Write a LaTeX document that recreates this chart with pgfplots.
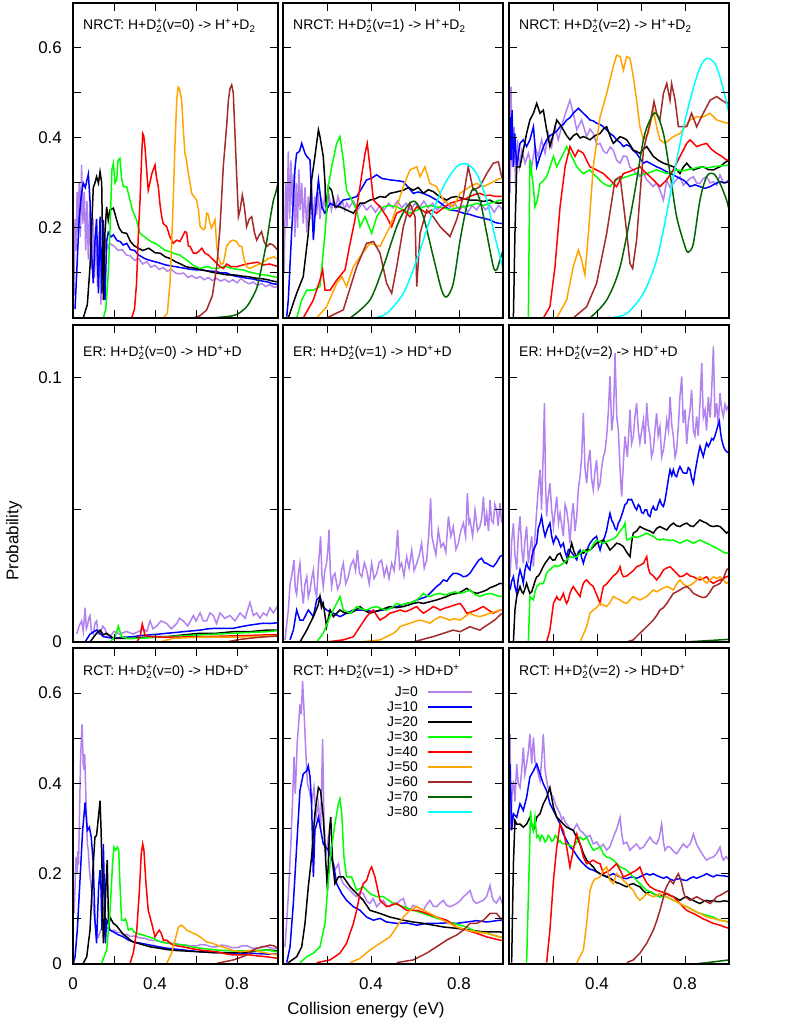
\documentclass[border=0pt]{standalone}
\usepackage{pgfplots}
\pgfplotsset{compat=1.18}
\usepackage{fontspec}
\setmainfont{Liberation Sans}
\definecolor{jpurple}{HTML}{B283F0}
\definecolor{jgreen}{HTML}{00FF00}
\definecolor{jorange}{HTML}{FFA500}
\definecolor{jbrown}{HTML}{A52A2A}
\definecolor{jdkgreen}{HTML}{006400}
\definecolor{jcyan}{HTML}{00FFFF}
\newcommand{\Dtwo}{D\rlap{\textsuperscript{+}}\textsubscript{2}}
\newcommand{\titlefont}{\fontsize{14}{14}\selectfont}
\pgfplotsset{
  panel/.style={scale only axis, anchor=south west, xmin=0, xmax=1, ymin=0,
    axis line style={line width=2.6bp}, axis on top,
    major tick length=8bp, tick style={line width=1bp,black}, tick align=inside,
    xtick pos=both, ytick pos=both,
    xtick={0.2,0.4,0.6,0.8}, xticklabels={,,,,,,}, yticklabels={,,,,,,,,,},
    ticklabel style={font=\fontsize{17}{17}\selectfont, inner sep=0pt},
    xticklabel style={yshift=-13bp}, yticklabel style={xshift=-11bp},
    clip=true, every axis plot/.append style={line width=1.5bp, no markers}},
  c0/.style={color=jpurple}, c1/.style={color=blue}, c2/.style={color=black},
  c3/.style={color=jgreen}, c4/.style={color=red}, c5/.style={color=jorange},
  c6/.style={color=jbrown}, c7/.style={color=jdkgreen}, c8/.style={color=jcyan},
  rowA/.style={ymax=0.7, ytick={0.1,0.2,0.3,0.4,0.5,0.6}},
  rowB/.style={ymax=0.12, ytick={0,0.05,0.1}},
  rowC/.style={ymax=0.7, ytick={0,0.1,0.2,0.3,0.4,0.5,0.6}},
}
\begin{document}
\begin{tikzpicture}
\path[use as bounding box] (0,0) rectangle (789bp,1021bp);
%% ================= ROW 1: NRCT =================
\begin{axis}[panel,rowA,at={(73bp,703bp)},width=205bp,height=315bp,yticklabels={,0.2,,0.4,,0.6}]
\addplot[c0] coordinates {(0.005,0.05)(0.01,0.22)(0.015,0.15)(0.02,0.28)(0.025,0.19)(0.03,0.3)(0.036,0.18)(0.042,0.34)(0.048,0.21)(0.055,0.28)(0.062,0.15)(0.068,0.26)(0.075,0.13)(0.082,0.24)(0.09,0.11)(0.098,0.22)(0.105,0.09)(0.112,0.2)(0.12,0.07)(0.128,0.19)(0.136,0.03)(0.144,0.17)(0.152,0.14)(0.16,0.17)(0.17,0.155)(0.18,0.165)(0.2,0.16)(0.22,0.15)(0.24,0.152)(0.26,0.14)(0.28,0.138)(0.3,0.128)(0.32,0.132)(0.34,0.12)(0.36,0.125)(0.38,0.113)(0.4,0.117)(0.42,0.108)(0.44,0.112)(0.46,0.104)(0.48,0.108)(0.5,0.1)(0.52,0.098)(0.54,0.1)(0.56,0.09)(0.58,0.094)(0.6,0.088)(0.62,0.092)(0.64,0.085)(0.66,0.09)(0.68,0.083)(0.7,0.088)(0.72,0.082)(0.74,0.086)(0.76,0.08)(0.78,0.085)(0.8,0.078)(0.82,0.088)(0.84,0.08)(0.86,0.076)(0.88,0.08)(0.9,0.072)(0.92,0.077)(0.94,0.07)(0.96,0.074)(0.98,0.068)(1,0.07)};
\addplot[c1] coordinates {(0.01,0.02)(0.02,0.12)(0.03,0.22)(0.04,0.27)(0.05,0.3)(0.06,0.29)(0.07,0.31)(0.075,0.32)(0.083,0.26)(0.09,0.15)(0.099,0.077)(0.107,0.17)(0.115,0.22)(0.124,0.055)(0.132,0.225)(0.14,0.055)(0.148,0.218)(0.156,0.04)(0.164,0.17)(0.172,0.19)(0.185,0.18)(0.197,0.185)(0.215,0.172)(0.23,0.17)(0.245,0.162)(0.262,0.166)(0.28,0.152)(0.3,0.15)(0.32,0.14)(0.35,0.132)(0.375,0.128)(0.4,0.125)(0.425,0.122)(0.45,0.118)(0.475,0.116)(0.5,0.114)(0.525,0.112)(0.55,0.11)(0.575,0.108)(0.6,0.107)(0.625,0.107)(0.65,0.105)(0.675,0.104)(0.7,0.103)(0.725,0.1)(0.75,0.1)(0.775,0.095)(0.8,0.092)(0.825,0.091)(0.85,0.088)(0.875,0.087)(0.9,0.084)(0.925,0.082)(0.95,0.08)(0.975,0.076)(1,0.075)};
\addplot[c2] coordinates {(0.05,0)(0.07,0.03)(0.083,0.114)(0.099,0.29)(0.107,0.3)(0.115,0.314)(0.124,0.3)(0.132,0.325)(0.14,0.3)(0.148,0.04)(0.156,0.19)(0.164,0.247)(0.172,0.218)(0.18,0.24)(0.197,0.244)(0.213,0.218)(0.225,0.2)(0.24,0.19)(0.262,0.188)(0.28,0.17)(0.3,0.16)(0.32,0.155)(0.34,0.15)(0.37,0.155)(0.4,0.145)(0.425,0.144)(0.45,0.136)(0.475,0.132)(0.5,0.125)(0.525,0.12)(0.55,0.114)(0.575,0.112)(0.6,0.11)(0.625,0.107)(0.65,0.105)(0.675,0.102)(0.7,0.1)(0.725,0.098)(0.75,0.096)(0.775,0.096)(0.8,0.095)(0.825,0.093)(0.85,0.092)(0.875,0.09)(0.9,0.088)(0.925,0.087)(0.95,0.085)(0.975,0.082)(1,0.08)};
\addplot[c3] coordinates {(0.148,0)(0.16,0.02)(0.172,0.1)(0.18,0.188)(0.19,0.33)(0.197,0.344)(0.205,0.3)(0.213,0.307)(0.22,0.35)(0.229,0.355)(0.237,0.31)(0.246,0.292)(0.262,0.292)(0.278,0.262)(0.29,0.24)(0.31,0.218)(0.327,0.188)(0.35,0.18)(0.38,0.17)(0.4,0.166)(0.424,0.159)(0.45,0.15)(0.47,0.148)(0.489,0.144)(0.52,0.14)(0.554,0.129)(0.587,0.117)(0.62,0.11)(0.64,0.113)(0.66,0.114)(0.68,0.11)(0.7,0.11)(0.725,0.113)(0.75,0.114)(0.775,0.11)(0.8,0.108)(0.83,0.107)(0.86,0.102)(0.88,0.1)(0.92,0.096)(0.95,0.095)(0.975,0.092)(1,0.09)};
\addplot[c4] coordinates {(0.286,0)(0.3,0.02)(0.31,0.077)(0.32,0.2)(0.327,0.262)(0.335,0.36)(0.34,0.41)(0.345,0.405)(0.351,0.381)(0.359,0.33)(0.367,0.284)(0.375,0.3)(0.384,0.32)(0.392,0.33)(0.4,0.34)(0.408,0.31)(0.416,0.292)(0.425,0.25)(0.433,0.225)(0.44,0.21)(0.457,0.203)(0.473,0.18)(0.489,0.166)(0.506,0.173)(0.522,0.17)(0.546,0.192)(0.554,0.19)(0.563,0.16)(0.571,0.159)(0.587,0.144)(0.603,0.144)(0.62,0.151)(0.628,0.155)(0.644,0.144)(0.66,0.14)(0.685,0.129)(0.717,0.114)(0.733,0.11)(0.75,0.12)(0.77,0.114)(0.8,0.114)(0.83,0.118)(0.86,0.121)(0.9,0.124)(0.93,0.118)(0.96,0.12)(1,0.114)};
\addplot[c5] coordinates {(0.44,0)(0.46,0.01)(0.473,0.077)(0.48,0.15)(0.489,0.262)(0.497,0.38)(0.506,0.484)(0.513,0.513)(0.519,0.51)(0.53,0.484)(0.538,0.42)(0.546,0.366)(0.554,0.35)(0.563,0.32)(0.571,0.3)(0.579,0.277)(0.59,0.27)(0.603,0.262)(0.612,0.24)(0.62,0.203)(0.628,0.2)(0.636,0.196)(0.644,0.2)(0.652,0.233)(0.66,0.23)(0.668,0.21)(0.676,0.2)(0.685,0.21)(0.693,0.218)(0.701,0.16)(0.709,0.136)(0.72,0.12)(0.733,0.121)(0.75,0.16)(0.766,0.17)(0.782,0.173)(0.798,0.17)(0.81,0.16)(0.823,0.159)(0.835,0.13)(0.847,0.114)(0.863,0.11)(0.88,0.114)(0.9,0.118)(0.92,0.12)(0.945,0.13)(0.96,0.133)(0.98,0.136)(1,0.13)};
\addplot[c6] coordinates {(0.587,0)(0.62,0.005)(0.652,0.018)(0.68,0.05)(0.701,0.114)(0.717,0.2)(0.733,0.336)(0.75,0.43)(0.758,0.484)(0.766,0.51)(0.774,0.518)(0.782,0.5)(0.79,0.41)(0.8,0.3)(0.807,0.225)(0.815,0.24)(0.826,0.273)(0.835,0.25)(0.847,0.203)(0.86,0.22)(0.872,0.225)(0.885,0.19)(0.896,0.173)(0.91,0.185)(0.92,0.192)(0.932,0.17)(0.945,0.159)(0.96,0.165)(0.977,0.162)(1,0.15)};
\addplot[c7,smooth] coordinates {(0.668,0)(0.75,0.003)(0.8,0.008)(0.847,0.025)(0.88,0.05)(0.9,0.072)(0.928,0.13)(0.945,0.17)(0.961,0.218)(0.977,0.26)(0.99,0.28)(1,0.3)};
\end{axis}

\begin{axis}[panel,rowA,at={(283bp,703bp)},width=220bp,height=315bp]
\addplot[c0] coordinates {(0.005,0.1)(0.012,0.3)(0.018,0.2)(0.024,0.37)(0.03,0.22)(0.036,0.35)(0.042,0.25)(0.048,0.32)(0.054,0.18)(0.06,0.3)(0.066,0.2)(0.072,0.33)(0.078,0.24)(0.085,0.3)(0.092,0.21)(0.1,0.29)(0.108,0.19)(0.115,0.27)(0.123,0.22)(0.13,0.3)(0.138,0.2)(0.145,0.27)(0.153,0.23)(0.16,0.28)(0.168,0.22)(0.176,0.26)(0.184,0.24)(0.19,0.28)(0.2,0.25)(0.21,0.27)(0.22,0.24)(0.23,0.265)(0.24,0.245)(0.25,0.27)(0.26,0.25)(0.27,0.26)(0.28,0.24)(0.29,0.255)(0.3,0.245)(0.32,0.26)(0.34,0.24)(0.36,0.255)(0.38,0.24)(0.4,0.25)(0.42,0.235)(0.44,0.25)(0.46,0.24)(0.48,0.255)(0.5,0.245)(0.52,0.26)(0.54,0.245)(0.56,0.255)(0.58,0.24)(0.6,0.255)(0.62,0.245)(0.64,0.26)(0.66,0.245)(0.68,0.255)(0.7,0.24)(0.72,0.25)(0.74,0.26)(0.76,0.245)(0.78,0.255)(0.8,0.24)(0.82,0.25)(0.84,0.235)(0.86,0.25)(0.88,0.24)(0.9,0.255)(0.92,0.24)(0.94,0.25)(0.96,0.235)(0.98,0.25)(1,0.24)};
\addplot[c1] coordinates {(0.017,0.003)(0.024,0.04)(0.039,0.188)(0.055,0.336)(0.062,0.366)(0.075,0.37)(0.085,0.388)(0.1,0.366)(0.108,0.359)(0.123,0.351)(0.13,0.262)(0.138,0.173)(0.145,0.225)(0.161,0.307)(0.176,0.247)(0.191,0.233)(0.214,0.255)(0.244,0.247)(0.274,0.262)(0.305,0.265)(0.335,0.27)(0.36,0.29)(0.38,0.307)(0.4,0.31)(0.426,0.318)(0.45,0.31)(0.486,0.307)(0.52,0.305)(0.547,0.303)(0.57,0.29)(0.592,0.277)(0.615,0.28)(0.638,0.277)(0.67,0.27)(0.698,0.262)(0.73,0.25)(0.759,0.24)(0.79,0.238)(0.82,0.233)(0.85,0.23)(0.88,0.225)(0.91,0.222)(0.941,0.218)(0.965,0.212)(0.986,0.21)(1,0.21)};
\addplot[c2] coordinates {(0.024,0)(0.062,0.055)(0.092,0.092)(0.115,0.188)(0.13,0.307)(0.145,0.359)(0.161,0.418)(0.168,0.403)(0.183,0.359)(0.191,0.299)(0.198,0.233)(0.206,0.292)(0.221,0.284)(0.236,0.247)(0.259,0.247)(0.289,0.24)(0.32,0.233)(0.35,0.255)(0.37,0.255)(0.395,0.262)(0.42,0.265)(0.441,0.27)(0.465,0.268)(0.486,0.277)(0.515,0.28)(0.547,0.284)(0.57,0.29)(0.592,0.284)(0.615,0.29)(0.638,0.277)(0.66,0.285)(0.683,0.281)(0.71,0.27)(0.744,0.262)(0.765,0.268)(0.789,0.27)(0.82,0.265)(0.85,0.262)(0.88,0.262)(0.911,0.259)(0.94,0.262)(0.965,0.256)(0.986,0.255)(1,0.257)};
\addplot[c3] coordinates {(0.062,0)(0.085,0.04)(0.108,0.062)(0.138,0.062)(0.168,0.07)(0.191,0.188)(0.206,0.292)(0.221,0.336)(0.244,0.388)(0.259,0.403)(0.274,0.351)(0.289,0.284)(0.312,0.262)(0.335,0.24)(0.35,0.203)(0.373,0.225)(0.403,0.188)(0.426,0.225)(0.456,0.247)(0.485,0.25)(0.517,0.247)(0.545,0.24)(0.577,0.233)(0.61,0.24)(0.638,0.247)(0.67,0.25)(0.698,0.247)(0.73,0.245)(0.759,0.24)(0.79,0.245)(0.82,0.247)(0.85,0.25)(0.88,0.255)(0.91,0.25)(0.941,0.255)(0.965,0.258)(0.986,0.262)(1,0.26)};
\addplot[c4] coordinates {(0.092,0)(0.138,0.04)(0.168,0.084)(0.18,0.107)(0.191,0.062)(0.214,0.062)(0.244,0.084)(0.282,0.107)(0.305,0.166)(0.327,0.218)(0.35,0.292)(0.373,0.366)(0.383,0.388)(0.395,0.336)(0.411,0.262)(0.441,0.247)(0.471,0.225)(0.494,0.203)(0.517,0.233)(0.547,0.24)(0.577,0.225)(0.608,0.247)(0.63,0.24)(0.653,0.233)(0.675,0.24)(0.698,0.233)(0.73,0.245)(0.759,0.255)(0.78,0.258)(0.805,0.262)(0.83,0.265)(0.85,0.27)(0.875,0.275)(0.895,0.277)(0.92,0.272)(0.941,0.273)(0.965,0.27)(0.986,0.27)(1,0.27)};
\addplot[c5] coordinates {(0.153,0)(0.198,0.025)(0.244,0.077)(0.267,0.092)(0.289,0.07)(0.32,0.114)(0.35,0.136)(0.395,0.166)(0.441,0.159)(0.486,0.203)(0.517,0.247)(0.547,0.292)(0.577,0.329)(0.608,0.336)(0.623,0.314)(0.645,0.336)(0.668,0.299)(0.698,0.292)(0.729,0.262)(0.774,0.247)(0.805,0.277)(0.85,0.292)(0.88,0.299)(0.911,0.292)(0.941,0.299)(0.965,0.305)(0.986,0.31)(1,0.31)};
\addplot[c6] coordinates {(0.198,0)(0.274,0.018)(0.335,0.114)(0.38,0.166)(0.411,0.17)(0.441,0.144)(0.471,0.077)(0.494,0.055)(0.517,0.114)(0.547,0.203)(0.577,0.255)(0.6,0.225)(0.608,0.07)(0.623,0.188)(0.653,0.24)(0.683,0.225)(0.714,0.203)(0.759,0.181)(0.789,0.218)(0.82,0.27)(0.842,0.336)(0.865,0.284)(0.895,0.292)(0.926,0.321)(0.956,0.344)(0.979,0.347)(0.994,0.314)(1,0.31)};
\addplot[c7,smooth] coordinates {(0.305,0)(0.395,0.04)(0.456,0.114)(0.517,0.203)(0.562,0.247)(0.6,0.259)(0.638,0.225)(0.683,0.136)(0.721,0.062)(0.744,0.047)(0.774,0.077)(0.805,0.173)(0.835,0.247)(0.865,0.288)(0.895,0.262)(0.926,0.188)(0.956,0.114)(0.971,0.107)(0.986,0.129)(1,0.15)};
\addplot[c8,smooth] coordinates {(0.411,0)(0.471,0.01)(0.547,0.055)(0.608,0.129)(0.668,0.218)(0.729,0.292)(0.789,0.336)(0.835,0.342)(0.88,0.321)(0.926,0.262)(0.956,0.196)(0.986,0.136)(1,0.11)};
\end{axis}

\begin{axis}[panel,rowA,at={(509bp,703bp)},width=220bp,height=315bp]
\addplot[c0] coordinates {(0.005,0.277)(0.009,0.514)(0.015,0.336)(0.023,0.425)(0.03,0.292)(0.038,0.396)(0.047,0.336)(0.058,0.373)(0.073,0.344)(0.088,0.366)(0.103,0.336)(0.118,0.381)(0.133,0.359)(0.148,0.396)(0.164,0.366)(0.179,0.41)(0.194,0.381)(0.209,0.425)(0.224,0.396)(0.247,0.44)(0.262,0.462)(0.277,0.484)(0.292,0.455)(0.308,0.418)(0.33,0.44)(0.353,0.403)(0.368,0.42)(0.383,0.41)(0.4,0.385)(0.414,0.388)(0.43,0.37)(0.444,0.366)(0.46,0.38)(0.474,0.373)(0.49,0.35)(0.505,0.344)(0.52,0.36)(0.535,0.359)(0.55,0.335)(0.565,0.329)(0.58,0.32)(0.595,0.314)(0.61,0.325)(0.626,0.307)(0.64,0.3)(0.656,0.292)(0.67,0.3)(0.686,0.284)(0.702,0.262)(0.717,0.307)(0.732,0.29)(0.747,0.299)(0.762,0.308)(0.777,0.314)(0.792,0.295)(0.808,0.303)(0.823,0.31)(0.838,0.314)(0.853,0.3)(0.868,0.299)(0.883,0.31)(0.898,0.314)(0.914,0.3)(0.929,0.303)(0.944,0.295)(0.959,0.318)(0.975,0.3)(1,0.307)};
\addplot[c1] coordinates {(0.005,0.447)(0.009,0.351)(0.014,0.462)(0.02,0.336)(0.026,0.41)(0.035,0.336)(0.05,0.388)(0.065,0.396)(0.08,0.381)(0.095,0.396)(0.111,0.425)(0.126,0.336)(0.141,0.359)(0.156,0.38)(0.171,0.396)(0.186,0.405)(0.202,0.41)(0.217,0.415)(0.232,0.425)(0.247,0.43)(0.262,0.44)(0.277,0.445)(0.292,0.455)(0.315,0.466)(0.338,0.455)(0.353,0.448)(0.368,0.44)(0.383,0.438)(0.398,0.433)(0.414,0.43)(0.429,0.425)(0.444,0.418)(0.459,0.41)(0.474,0.405)(0.489,0.396)(0.505,0.39)(0.52,0.381)(0.535,0.385)(0.55,0.381)(0.565,0.372)(0.58,0.366)(0.595,0.355)(0.611,0.344)(0.626,0.348)(0.641,0.344)(0.656,0.34)(0.671,0.336)(0.686,0.333)(0.702,0.329)(0.717,0.325)(0.732,0.321)(0.747,0.318)(0.762,0.314)(0.777,0.31)(0.792,0.307)(0.808,0.3)(0.823,0.292)(0.845,0.296)(0.868,0.292)(0.89,0.288)(0.914,0.292)(0.936,0.298)(0.959,0.303)(0.98,0.3)(1,0.303)};
\addplot[c2] coordinates {(0.02,0)(0.027,0.188)(0.035,0.336)(0.05,0.336)(0.065,0.373)(0.08,0.41)(0.095,0.44)(0.111,0.455)(0.126,0.477)(0.141,0.455)(0.156,0.462)(0.171,0.418)(0.186,0.381)(0.202,0.41)(0.217,0.44)(0.232,0.43)(0.247,0.418)(0.262,0.405)(0.277,0.396)(0.292,0.405)(0.308,0.41)(0.323,0.4)(0.338,0.403)(0.353,0.4)(0.368,0.396)(0.39,0.405)(0.414,0.41)(0.429,0.42)(0.444,0.425)(0.459,0.405)(0.474,0.388)(0.489,0.395)(0.505,0.403)(0.52,0.4)(0.535,0.396)(0.55,0.385)(0.565,0.373)(0.58,0.37)(0.595,0.366)(0.611,0.375)(0.626,0.381)(0.641,0.37)(0.656,0.359)(0.68,0.35)(0.702,0.344)(0.725,0.34)(0.747,0.336)(0.762,0.33)(0.777,0.321)(0.792,0.335)(0.808,0.344)(0.823,0.335)(0.838,0.329)(0.86,0.333)(0.883,0.336)(0.905,0.33)(0.929,0.329)(0.945,0.333)(0.959,0.336)(0.98,0.345)(1,0.351)};
\addplot[c3] coordinates {(0.088,0)(0.095,0.351)(0.111,0.292)(0.118,0.247)(0.129,0.262)(0.141,0.299)(0.156,0.305)(0.171,0.314)(0.186,0.335)(0.202,0.359)(0.217,0.336)(0.232,0.351)(0.247,0.365)(0.262,0.381)(0.285,0.359)(0.308,0.336)(0.323,0.328)(0.338,0.321)(0.353,0.325)(0.368,0.329)(0.383,0.32)(0.398,0.314)(0.414,0.305)(0.429,0.299)(0.444,0.295)(0.459,0.292)(0.474,0.3)(0.489,0.307)(0.51,0.31)(0.535,0.314)(0.558,0.318)(0.58,0.321)(0.603,0.318)(0.626,0.321)(0.648,0.325)(0.671,0.329)(0.695,0.325)(0.717,0.321)(0.74,0.325)(0.762,0.329)(0.785,0.327)(0.808,0.329)(0.838,0.332)(0.868,0.336)(0.9,0.334)(0.929,0.336)(0.96,0.338)(1,0.34)};
\addplot[c4] coordinates {(0.156,0)(0.186,0.025)(0.209,0.114)(0.232,0.247)(0.255,0.336)(0.277,0.381)(0.3,0.359)(0.315,0.373)(0.338,0.366)(0.353,0.35)(0.368,0.336)(0.398,0.329)(0.429,0.321)(0.459,0.307)(0.489,0.292)(0.52,0.321)(0.545,0.325)(0.565,0.329)(0.595,0.336)(0.626,0.321)(0.656,0.307)(0.686,0.292)(0.717,0.307)(0.747,0.329)(0.777,0.359)(0.808,0.388)(0.823,0.396)(0.853,0.381)(0.875,0.385)(0.898,0.388)(0.92,0.375)(0.944,0.366)(0.965,0.36)(0.989,0.351)(1,0.35)};
\addplot[c5] coordinates {(0.217,0)(0.262,0.04)(0.292,0.114)(0.315,0.151)(0.33,0.129)(0.345,0.096)(0.361,0.188)(0.383,0.336)(0.414,0.447)(0.444,0.499)(0.474,0.559)(0.489,0.584)(0.505,0.581)(0.52,0.551)(0.535,0.581)(0.55,0.577)(0.565,0.536)(0.58,0.484)(0.595,0.425)(0.611,0.396)(0.633,0.41)(0.656,0.462)(0.671,0.425)(0.686,0.396)(0.709,0.388)(0.747,0.403)(0.777,0.41)(0.8,0.425)(0.823,0.44)(0.853,0.447)(0.883,0.447)(0.914,0.455)(0.944,0.44)(0.97,0.436)(0.989,0.433)(1,0.435)};
\addplot[c6] coordinates {(0.292,0)(0.353,0.025)(0.398,0.077)(0.444,0.188)(0.482,0.307)(0.505,0.314)(0.527,0.225)(0.55,0.121)(0.562,0.11)(0.58,0.173)(0.611,0.373)(0.641,0.433)(0.659,0.481)(0.671,0.455)(0.686,0.44)(0.702,0.499)(0.717,0.521)(0.732,0.484)(0.739,0.521)(0.755,0.484)(0.77,0.425)(0.808,0.425)(0.83,0.455)(0.853,0.425)(0.883,0.455)(0.914,0.484)(0.944,0.492)(0.967,0.484)(0.989,0.477)(1,0.48)};
\addplot[c7,smooth] coordinates {(0.368,0)(0.444,0.04)(0.505,0.114)(0.565,0.262)(0.611,0.396)(0.641,0.44)(0.668,0.455)(0.702,0.41)(0.732,0.321)(0.762,0.225)(0.8,0.159)(0.815,0.146)(0.838,0.166)(0.868,0.262)(0.898,0.314)(0.929,0.321)(0.959,0.299)(0.989,0.262)(1,0.24)};
\addplot[c8,smooth] coordinates {(0.459,0)(0.535,0.01)(0.611,0.055)(0.671,0.129)(0.717,0.233)(0.762,0.351)(0.808,0.455)(0.853,0.536)(0.883,0.57)(0.906,0.577)(0.936,0.566)(0.959,0.536)(0.982,0.492)(1,0.455)};
\end{axis}

%% ================= ROW 2: ER =================
\begin{axis}[panel,rowB,at={(73bp,379bp)},width=205bp,height=317bp,yticklabels={0,,0.1}]
\addplot[c0] coordinates {(0.018,0.003)(0.03,0.006)(0.042,0.008)(0.05,0.004)(0.059,0.013)(0.065,0.005)(0.07,0.006)(0.077,0.009)(0.083,0.01)(0.09,0.004)(0.099,0.003)(0.107,0.007)(0.115,0.008)(0.123,0.003)(0.132,0.003)(0.145,0.006)(0.156,0.005)(0.168,0.002)(0.18,0.002)(0.2,0.004)(0.229,0.003)(0.26,0.004)(0.294,0.003)(0.32,0.004)(0.343,0.005)(0.36,0.004)(0.376,0.008)(0.39,0.005)(0.408,0.006)(0.43,0.008)(0.457,0.007)(0.48,0.005)(0.506,0.007)(0.52,0.009)(0.538,0.008)(0.56,0.006)(0.587,0.01)(0.6,0.008)(0.62,0.011)(0.635,0.008)(0.652,0.008)(0.668,0.011)(0.685,0.01)(0.7,0.007)(0.717,0.011)(0.74,0.009)(0.766,0.01)(0.79,0.008)(0.815,0.011)(0.84,0.009)(0.863,0.015)(0.88,0.01)(0.896,0.011)(0.912,0.009)(0.928,0.011)(0.945,0.01)(0.961,0.013)(0.977,0.011)(0.993,0.013)(1,0.012)};
\addplot[c1] coordinates {(0.059,0)(0.083,0.003)(0.115,0.0045)(0.148,0.002)(0.197,0.0014)(0.25,0.0018)(0.294,0.002)(0.335,0.0025)(0.376,0.0027)(0.42,0.003)(0.457,0.0033)(0.5,0.0036)(0.538,0.0039)(0.58,0.0042)(0.62,0.0045)(0.66,0.005)(0.701,0.0052)(0.74,0.0052)(0.782,0.0052)(0.82,0.0058)(0.863,0.0064)(0.9,0.0068)(0.928,0.0071)(0.96,0.007)(1,0.0073)};
\addplot[c2] coordinates {(0.083,0)(0.115,0.0033)(0.132,0.0045)(0.148,0.0027)(0.164,0.0033)(0.197,0.0014)(0.294,0.0014)(0.376,0.002)(0.457,0.002)(0.538,0.0027)(0.62,0.0033)(0.701,0.0033)(0.782,0.0039)(0.863,0.0039)(0.945,0.0045)(1,0.0045)};
\addplot[c3] coordinates {(0.18,0)(0.205,0.002)(0.221,0.006)(0.237,0.002)(0.262,0.0014)(0.327,0.0014)(0.457,0.002)(0.62,0.0027)(0.782,0.0033)(0.945,0.0039)(1,0.0043)};
\addplot[c4] coordinates {(0.311,0)(0.327,0.002)(0.338,0.0068)(0.351,0.0027)(0.376,0.002)(0.457,0.0018)(0.62,0.002)(0.782,0.0023)(0.945,0.0027)(1,0.0027)};
\addplot[c5] coordinates {(0.424,0)(0.489,0.0014)(0.62,0.0018)(0.782,0.0018)(0.945,0.0023)(1,0.0023)};
\addplot[c6] coordinates {(0.75,0)(0.815,0.001)(0.912,0.0018)(1,0.0023)};
\end{axis}

\begin{axis}[panel,rowB,at={(283bp,379bp)},width=220bp,height=317bp]
\addplot[c0] coordinates {(0.009,0.0008)(0.024,0.012)(0.032,0.022)(0.039,0.0247)(0.05,0.031)(0.056,0.02)(0.062,0.018)(0.07,0.026)(0.077,0.0298)(0.085,0.02)(0.092,0.0146)(0.1,0.022)(0.108,0.0247)(0.115,0.017)(0.123,0.0197)(0.13,0.024)(0.138,0.0273)(0.145,0.02)(0.153,0.0172)(0.162,0.03)(0.171,0.04)(0.177,0.025)(0.183,0.021)(0.19,0.027)(0.198,0.0298)(0.204,0.035)(0.209,0.0424)(0.215,0.027)(0.221,0.021)(0.228,0.025)(0.236,0.026)(0.248,0.02)(0.259,0.0222)(0.266,0.027)(0.274,0.0298)(0.285,0.022)(0.297,0.0247)(0.308,0.029)(0.32,0.031)(0.33,0.027)(0.338,0.0348)(0.348,0.026)(0.358,0.0247)(0.37,0.03)(0.38,0.0273)(0.392,0.022)(0.403,0.0298)(0.414,0.024)(0.426,0.026)(0.437,0.03)(0.448,0.031)(0.46,0.025)(0.471,0.0285)(0.482,0.024)(0.494,0.0298)(0.505,0.027)(0.515,0.035)(0.521,0.0424)(0.53,0.028)(0.539,0.0298)(0.55,0.025)(0.562,0.0323)(0.573,0.028)(0.585,0.0348)(0.596,0.027)(0.608,0.0298)(0.62,0.033)(0.63,0.0374)(0.642,0.028)(0.653,0.031)(0.662,0.04)(0.671,0.0544)(0.677,0.04)(0.683,0.0374)(0.695,0.033)(0.706,0.0424)(0.718,0.036)(0.729,0.0374)(0.74,0.034)(0.752,0.0475)(0.763,0.04)(0.774,0.0437)(0.786,0.035)(0.797,0.0374)(0.808,0.042)(0.82,0.045)(0.83,0.04)(0.838,0.0563)(0.845,0.045)(0.85,0.0462)(0.862,0.04)(0.873,0.05)(0.884,0.042)(0.895,0.0437)(0.903,0.047)(0.911,0.055)(0.918,0.044)(0.926,0.0487)(0.934,0.042)(0.941,0.0538)(0.948,0.046)(0.956,0.045)(0.963,0.052)(0.971,0.05)(0.978,0.044)(0.986,0.0525)(0.993,0.046)(1,0.0475)};
\addplot[c1] coordinates {(0.032,0.0008)(0.047,0.0045)(0.062,0.0121)(0.077,0.0083)(0.092,0.0083)(0.115,0.0121)(0.138,0.0096)(0.153,0.0159)(0.168,0.0172)(0.183,0.0134)(0.198,0.0121)(0.229,0.0109)(0.259,0.0096)(0.289,0.0109)(0.32,0.0121)(0.365,0.0121)(0.411,0.0115)(0.456,0.0121)(0.49,0.0128)(0.517,0.0134)(0.54,0.014)(0.562,0.0146)(0.585,0.015)(0.608,0.0159)(0.63,0.0165)(0.653,0.0172)(0.675,0.019)(0.698,0.021)(0.714,0.022)(0.729,0.0235)(0.745,0.023)(0.759,0.0247)(0.775,0.026)(0.789,0.026)(0.805,0.0255)(0.82,0.0247)(0.835,0.025)(0.85,0.026)(0.865,0.028)(0.88,0.0298)(0.89,0.031)(0.903,0.0317)(0.915,0.03)(0.926,0.0298)(0.94,0.029)(0.956,0.0285)(0.97,0.03)(0.986,0.0323)(1,0.033)};
\addplot[c2] coordinates {(0.077,0)(0.108,0.0045)(0.138,0.0096)(0.16,0.014)(0.168,0.0172)(0.175,0.013)(0.183,0.0146)(0.198,0.0058)(0.214,0.0121)(0.229,0.0096)(0.259,0.0121)(0.28,0.011)(0.305,0.0109)(0.33,0.012)(0.35,0.0134)(0.37,0.012)(0.395,0.0109)(0.42,0.0115)(0.441,0.0121)(0.465,0.0128)(0.486,0.0134)(0.515,0.013)(0.547,0.0134)(0.57,0.014)(0.592,0.0146)(0.615,0.015)(0.638,0.0146)(0.665,0.0152)(0.698,0.0159)(0.72,0.0165)(0.744,0.0172)(0.765,0.018)(0.789,0.0184)(0.81,0.019)(0.835,0.0203)(0.86,0.019)(0.88,0.0184)(0.905,0.019)(0.926,0.0197)(0.94,0.0205)(0.956,0.021)(0.97,0.0215)(0.986,0.0222)(1,0.022)};
\addplot[c3] coordinates {(0.153,0)(0.183,0.0033)(0.214,0.0096)(0.244,0.0146)(0.259,0.0172)(0.274,0.0121)(0.29,0.0115)(0.305,0.0109)(0.32,0.012)(0.335,0.0134)(0.358,0.0125)(0.38,0.0121)(0.403,0.013)(0.426,0.0134)(0.45,0.0125)(0.471,0.0121)(0.495,0.013)(0.517,0.0146)(0.54,0.014)(0.562,0.0146)(0.585,0.015)(0.608,0.0159)(0.623,0.017)(0.638,0.0184)(0.653,0.0175)(0.668,0.0172)(0.69,0.018)(0.714,0.0184)(0.735,0.0178)(0.759,0.0184)(0.78,0.019)(0.805,0.0184)(0.83,0.019)(0.85,0.0197)(0.872,0.018)(0.895,0.0172)(0.918,0.018)(0.941,0.0184)(0.965,0.0178)(0.986,0.0172)(1,0.0175)};
\addplot[c4] coordinates {(0.198,0)(0.274,0.0008)(0.32,0.002)(0.35,0.0058)(0.38,0.0096)(0.395,0.011)(0.411,0.0121)(0.426,0.01)(0.441,0.0083)(0.465,0.0095)(0.486,0.0109)(0.51,0.0115)(0.532,0.0121)(0.555,0.0115)(0.577,0.0121)(0.592,0.0128)(0.608,0.0134)(0.623,0.012)(0.638,0.0109)(0.66,0.012)(0.683,0.0134)(0.7,0.0128)(0.714,0.0121)(0.735,0.0128)(0.759,0.0134)(0.78,0.014)(0.805,0.0146)(0.82,0.013)(0.835,0.0109)(0.86,0.0115)(0.88,0.0121)(0.895,0.0128)(0.911,0.0134)(0.935,0.012)(0.956,0.0109)(0.972,0.0115)(0.986,0.0121)(1,0.012)};
\addplot[c5] coordinates {(0.35,0)(0.441,0.0008)(0.47,0.002)(0.502,0.0033)(0.52,0.0045)(0.532,0.0058)(0.555,0.0065)(0.577,0.0071)(0.6,0.0078)(0.623,0.0083)(0.645,0.0078)(0.668,0.0071)(0.69,0.0085)(0.714,0.0096)(0.735,0.009)(0.759,0.0083)(0.78,0.0088)(0.805,0.0083)(0.83,0.0098)(0.85,0.0109)(0.872,0.01)(0.895,0.0096)(0.918,0.0102)(0.941,0.0109)(0.965,0.0115)(0.986,0.0121)(1,0.012)};
\addplot[c6] coordinates {(0.592,0)(0.653,0.0014)(0.69,0.0022)(0.729,0.0033)(0.774,0.0045)(0.805,0.0039)(0.85,0.0058)(0.875,0.005)(0.895,0.0045)(0.92,0.006)(0.941,0.0071)(0.965,0.0085)(0.986,0.0102)(1,0.011)};
\end{axis}

\begin{axis}[panel,rowB,at={(509bp,379bp)},width=220bp,height=317bp]
\addplot[c0] coordinates {(0.005,0.0247)(0.012,0.038)(0.02,0.045)(0.027,0.033)(0.035,0.0273)(0.042,0.04)(0.05,0.0475)(0.058,0.035)(0.065,0.0298)(0.072,0.038)(0.08,0.0437)(0.088,0.03)(0.095,0.0348)(0.103,0.04)(0.111,0.0285)(0.118,0.04)(0.126,0.05)(0.133,0.058)(0.141,0.0652)(0.148,0.05)(0.155,0.07)(0.161,0.0904)(0.166,0.06)(0.171,0.0475)(0.178,0.055)(0.186,0.0601)(0.194,0.05)(0.202,0.0437)(0.21,0.05)(0.217,0.055)(0.225,0.045)(0.232,0.0487)(0.24,0.044)(0.247,0.04)(0.255,0.052)(0.262,0.05)(0.27,0.045)(0.277,0.0374)(0.285,0.048)(0.292,0.0525)(0.3,0.042)(0.308,0.0475)(0.315,0.058)(0.323,0.0626)(0.33,0.07)(0.338,0.0866)(0.345,0.066)(0.353,0.0601)(0.36,0.068)(0.368,0.0727)(0.375,0.062)(0.383,0.0576)(0.39,0.064)(0.398,0.0689)(0.406,0.058)(0.414,0.0601)(0.421,0.066)(0.429,0.0702)(0.436,0.072)(0.444,0.0778)(0.452,0.088)(0.459,0.1005)(0.467,0.08)(0.474,0.0854)(0.478,0.095)(0.482,0.1093)(0.49,0.085)(0.497,0.0803)(0.505,0.065)(0.512,0.055)(0.52,0.068)(0.527,0.0778)(0.538,0.07)(0.55,0.0879)(0.557,0.075)(0.565,0.0778)(0.572,0.085)(0.58,0.0904)(0.588,0.08)(0.595,0.0753)(0.603,0.08)(0.611,0.0841)(0.618,0.075)(0.626,0.0904)(0.633,0.082)(0.641,0.0778)(0.648,0.07)(0.656,0.0727)(0.663,0.08)(0.671,0.0866)(0.678,0.078)(0.686,0.0816)(0.694,0.07)(0.702,0.0727)(0.71,0.078)(0.717,0.0841)(0.725,0.08)(0.732,0.0929)(0.74,0.082)(0.747,0.0778)(0.755,0.07)(0.762,0.0727)(0.77,0.082)(0.777,0.0929)(0.785,0.1005)(0.792,0.083)(0.8,0.0879)(0.808,0.075)(0.815,0.0829)(0.823,0.088)(0.83,0.0955)(0.838,0.08)(0.845,0.078)(0.853,0.0854)(0.86,0.078)(0.868,0.0904)(0.876,0.1056)(0.883,0.085)(0.891,0.0879)(0.898,0.08)(0.906,0.0929)(0.914,0.085)(0.921,0.095)(0.929,0.1119)(0.936,0.085)(0.944,0.0904)(0.951,0.082)(0.959,0.0942)(0.967,0.088)(0.974,0.0854)(0.982,0.09)(0.989,0.0879)(1,0.09)};
\addplot[c1] coordinates {(0.005,0.0197)(0.012,0.023)(0.02,0.0247)(0.027,0.021)(0.035,0.0184)(0.042,0.024)(0.05,0.0273)(0.058,0.025)(0.065,0.0222)(0.072,0.027)(0.08,0.0298)(0.088,0.028)(0.095,0.0273)(0.103,0.032)(0.111,0.0348)(0.118,0.036)(0.126,0.0374)(0.133,0.043)(0.141,0.045)(0.148,0.0475)(0.156,0.043)(0.164,0.04)(0.175,0.043)(0.186,0.045)(0.194,0.04)(0.202,0.0374)(0.213,0.04)(0.224,0.0386)(0.235,0.036)(0.247,0.0374)(0.255,0.034)(0.262,0.0323)(0.27,0.035)(0.277,0.0348)(0.292,0.033)(0.308,0.0311)(0.315,0.034)(0.323,0.0348)(0.33,0.032)(0.338,0.0298)(0.345,0.032)(0.353,0.0336)(0.36,0.036)(0.368,0.0374)(0.383,0.039)(0.398,0.04)(0.406,0.037)(0.414,0.0348)(0.421,0.037)(0.429,0.0386)(0.436,0.04)(0.444,0.0424)(0.452,0.046)(0.459,0.0487)(0.467,0.046)(0.474,0.045)(0.482,0.043)(0.489,0.0424)(0.497,0.045)(0.505,0.0462)(0.512,0.048)(0.52,0.05)(0.527,0.052)(0.535,0.0525)(0.542,0.054)(0.55,0.0538)(0.557,0.054)(0.565,0.0525)(0.572,0.051)(0.58,0.05)(0.588,0.052)(0.595,0.0513)(0.603,0.049)(0.611,0.0487)(0.618,0.05)(0.626,0.05)(0.633,0.048)(0.641,0.0475)(0.648,0.05)(0.656,0.0513)(0.663,0.05)(0.671,0.05)(0.678,0.052)(0.686,0.0538)(0.694,0.052)(0.702,0.0513)(0.71,0.054)(0.717,0.0576)(0.725,0.062)(0.732,0.0652)(0.74,0.063)(0.747,0.0652)(0.755,0.063)(0.762,0.0626)(0.77,0.065)(0.777,0.0664)(0.792,0.064)(0.808,0.0639)(0.815,0.066)(0.823,0.0652)(0.83,0.062)(0.838,0.0601)(0.845,0.064)(0.853,0.0677)(0.86,0.071)(0.868,0.074)(0.876,0.072)(0.883,0.0702)(0.891,0.073)(0.898,0.0753)(0.906,0.074)(0.914,0.0753)(0.921,0.077)(0.929,0.0765)(0.936,0.078)(0.944,0.0803)(0.95,0.082)(0.956,0.0835)(0.962,0.079)(0.967,0.0765)(0.975,0.074)(0.982,0.0727)(0.99,0.072)(1,0.0715)};
\addplot[c2] coordinates {(0.02,0)(0.027,0.0121)(0.035,0.0172)(0.042,0.019)(0.05,0.021)(0.058,0.019)(0.065,0.0184)(0.072,0.02)(0.08,0.0222)(0.088,0.02)(0.095,0.0184)(0.103,0.019)(0.111,0.021)(0.118,0.023)(0.126,0.0247)(0.133,0.025)(0.141,0.026)(0.152,0.028)(0.164,0.0298)(0.175,0.031)(0.186,0.0323)(0.198,0.031)(0.209,0.0311)(0.22,0.033)(0.232,0.0336)(0.245,0.031)(0.262,0.0298)(0.275,0.034)(0.285,0.0374)(0.296,0.034)(0.308,0.0323)(0.323,0.034)(0.338,0.0336)(0.353,0.035)(0.368,0.0348)(0.383,0.036)(0.398,0.0374)(0.414,0.038)(0.429,0.0386)(0.444,0.037)(0.459,0.0348)(0.474,0.036)(0.489,0.0374)(0.505,0.037)(0.52,0.0361)(0.535,0.034)(0.55,0.0323)(0.558,0.038)(0.565,0.0412)(0.58,0.042)(0.595,0.0437)(0.61,0.043)(0.626,0.0424)(0.641,0.042)(0.656,0.0412)(0.671,0.043)(0.686,0.0437)(0.702,0.043)(0.717,0.0424)(0.732,0.044)(0.747,0.045)(0.762,0.044)(0.777,0.0437)(0.792,0.0445)(0.808,0.045)(0.823,0.044)(0.838,0.0437)(0.853,0.045)(0.868,0.0462)(0.883,0.0455)(0.898,0.045)(0.914,0.044)(0.929,0.0437)(0.944,0.044)(0.959,0.0437)(0.974,0.0425)(0.989,0.0412)(1,0.042)};
\addplot[c3] coordinates {(0.088,0)(0.095,0.0172)(0.103,0.0165)(0.111,0.0159)(0.118,0.019)(0.126,0.021)(0.133,0.0215)(0.141,0.0222)(0.148,0.022)(0.156,0.0222)(0.164,0.024)(0.171,0.026)(0.178,0.027)(0.186,0.0273)(0.194,0.028)(0.202,0.0285)(0.21,0.029)(0.217,0.0285)(0.232,0.029)(0.247,0.0298)(0.262,0.031)(0.277,0.0323)(0.292,0.032)(0.308,0.0323)(0.323,0.0335)(0.338,0.0348)(0.353,0.034)(0.368,0.0348)(0.383,0.037)(0.398,0.0386)(0.414,0.038)(0.429,0.0374)(0.444,0.038)(0.459,0.0386)(0.474,0.039)(0.489,0.04)(0.505,0.042)(0.52,0.0435)(0.527,0.045)(0.535,0.0386)(0.55,0.039)(0.565,0.04)(0.58,0.0395)(0.595,0.04)(0.61,0.0405)(0.626,0.0412)(0.641,0.0405)(0.656,0.04)(0.671,0.039)(0.686,0.0386)(0.702,0.039)(0.717,0.0386)(0.732,0.0385)(0.747,0.0386)(0.762,0.038)(0.777,0.0374)(0.792,0.038)(0.808,0.0386)(0.823,0.038)(0.838,0.0374)(0.853,0.038)(0.868,0.0386)(0.883,0.038)(0.898,0.0374)(0.914,0.0368)(0.929,0.0361)(0.944,0.0355)(0.959,0.0348)(0.974,0.034)(0.989,0.0336)(1,0.034)};
\addplot[c4] coordinates {(0.171,0)(0.186,0.0045)(0.202,0.0146)(0.21,0.016)(0.217,0.0172)(0.225,0.016)(0.232,0.0159)(0.24,0.017)(0.247,0.0184)(0.255,0.016)(0.262,0.0146)(0.27,0.016)(0.277,0.0184)(0.285,0.02)(0.292,0.021)(0.308,0.019)(0.323,0.0172)(0.33,0.02)(0.338,0.0222)(0.345,0.023)(0.353,0.0235)(0.368,0.022)(0.383,0.021)(0.398,0.018)(0.414,0.0146)(0.421,0.018)(0.429,0.021)(0.444,0.022)(0.459,0.0235)(0.474,0.025)(0.489,0.026)(0.497,0.027)(0.505,0.0285)(0.512,0.026)(0.52,0.0247)(0.535,0.025)(0.55,0.026)(0.565,0.027)(0.58,0.0285)(0.595,0.029)(0.611,0.0298)(0.618,0.031)(0.626,0.0323)(0.633,0.028)(0.641,0.026)(0.656,0.025)(0.671,0.0235)(0.686,0.025)(0.702,0.0273)(0.717,0.028)(0.732,0.0285)(0.747,0.0273)(0.762,0.026)(0.777,0.0247)(0.792,0.025)(0.808,0.026)(0.823,0.025)(0.838,0.0247)(0.853,0.024)(0.868,0.0235)(0.883,0.024)(0.898,0.0247)(0.914,0.023)(0.929,0.0222)(0.944,0.023)(0.959,0.0235)(0.974,0.024)(0.989,0.0247)(1,0.025)};
\addplot[c5] coordinates {(0.323,0)(0.353,0.0058)(0.368,0.0109)(0.383,0.0121)(0.398,0.013)(0.414,0.0146)(0.429,0.014)(0.444,0.0134)(0.459,0.015)(0.474,0.0172)(0.49,0.0165)(0.505,0.0159)(0.52,0.015)(0.535,0.0146)(0.55,0.016)(0.565,0.0172)(0.58,0.0165)(0.595,0.0159)(0.61,0.0165)(0.626,0.0172)(0.641,0.0185)(0.656,0.0197)(0.671,0.019)(0.686,0.0197)(0.702,0.0205)(0.717,0.021)(0.732,0.0205)(0.747,0.0197)(0.762,0.022)(0.777,0.0235)(0.792,0.022)(0.808,0.021)(0.823,0.0215)(0.838,0.0222)(0.853,0.0235)(0.868,0.0247)(0.883,0.0235)(0.898,0.0222)(0.914,0.0235)(0.929,0.0247)(0.944,0.024)(0.959,0.0247)(0.974,0.0235)(0.989,0.0222)(1,0.023)};
\addplot[c6] coordinates {(0.535,0)(0.565,0.0008)(0.595,0.0033)(0.626,0.0058)(0.656,0.0083)(0.671,0.01)(0.686,0.0121)(0.702,0.013)(0.717,0.0146)(0.732,0.0165)(0.747,0.0184)(0.762,0.019)(0.777,0.0197)(0.792,0.0205)(0.808,0.021)(0.823,0.02)(0.838,0.0184)(0.853,0.0178)(0.868,0.0172)(0.883,0.0168)(0.898,0.0172)(0.914,0.019)(0.929,0.021)(0.944,0.0215)(0.959,0.0222)(0.974,0.024)(0.989,0.0273)(1,0.028)};
\addplot[c7] coordinates {(0.8,0)(0.9,0.0005)(1,0.001)};
\end{axis}

%% ================= ROW 3: RCT =================
\begin{axis}[panel,rowC,at={(73bp,57bp)},width=205bp,height=316bp,yticklabels={0,,0.2,,0.4,,0.6},xtick={0,0.2,0.4,0.6,0.8},xticklabels={0,,0.4,,0.8}]
\addplot[c0] coordinates {(0.005,0.112)(0.01,0.17)(0.015,0.237)(0.02,0.2)(0.023,0.25)(0.027,0.22)(0.031,0.31)(0.037,0.458)(0.044,0.531)(0.05,0.443)(0.054,0.43)(0.057,0.465)(0.063,0.369)(0.07,0.266)(0.075,0.25)(0.08,0.208)(0.091,0.163)(0.102,0.112)(0.112,0.075)(0.124,0.06)(0.135,0.075)(0.15,0.085)(0.16,0.078)(0.17,0.08)(0.185,0.074)(0.2,0.075)(0.215,0.07)(0.23,0.07)(0.245,0.065)(0.26,0.066)(0.28,0.061)(0.3,0.062)(0.325,0.058)(0.35,0.057)(0.375,0.053)(0.4,0.052)(0.425,0.05)(0.45,0.048)(0.475,0.046)(0.5,0.045)(0.525,0.043)(0.55,0.042)(0.575,0.04)(0.6,0.04)(0.625,0.043)(0.65,0.042)(0.675,0.038)(0.7,0.038)(0.725,0.042)(0.75,0.04)(0.775,0.036)(0.8,0.036)(0.825,0.04)(0.85,0.04)(0.875,0.035)(0.9,0.035)(0.925,0.039)(0.95,0.038)(0.975,0.034)(1,0.034)};
\addplot[c1] coordinates {(0.002,0.0015)(0.01,0.016)(0.021,0.075)(0.034,0.185)(0.047,0.296)(0.059,0.358)(0.07,0.296)(0.08,0.303)(0.089,0.281)(0.099,0.222)(0.107,0.097)(0.115,0.046)(0.125,0.171)(0.132,0.208)(0.137,0.163)(0.141,0.075)(0.148,0.266)(0.153,0.163)(0.158,0.046)(0.164,0.097)(0.172,0.09)(0.18,0.075)(0.197,0.071)(0.22,0.065)(0.246,0.06)(0.27,0.053)(0.294,0.049)(0.33,0.046)(0.376,0.042)(0.42,0.038)(0.457,0.035)(0.5,0.033)(0.538,0.031)(0.58,0.029)(0.62,0.027)(0.66,0.026)(0.701,0.025)(0.74,0.025)(0.782,0.024)(0.82,0.024)(0.863,0.024)(0.9,0.023)(0.945,0.022)(1,0.022)};
\addplot[c2] coordinates {(0.05,0.0015)(0.067,0.016)(0.083,0.075)(0.099,0.222)(0.107,0.281)(0.115,0.285)(0.124,0.325)(0.132,0.362)(0.137,0.296)(0.143,0.185)(0.148,0.046)(0.153,0.075)(0.161,0.178)(0.167,0.23)(0.174,0.075)(0.18,0.104)(0.197,0.09)(0.212,0.085)(0.229,0.075)(0.245,0.066)(0.262,0.06)(0.28,0.053)(0.294,0.049)(0.33,0.044)(0.376,0.038)(0.42,0.035)(0.457,0.032)(0.5,0.03)(0.538,0.029)(0.58,0.028)(0.62,0.027)(0.66,0.026)(0.701,0.025)(0.74,0.025)(0.782,0.025)(0.82,0.026)(0.863,0.027)(0.9,0.029)(0.945,0.031)(1,0.029)};
\addplot[c3] coordinates {(0.14,0.0015)(0.164,0.031)(0.18,0.112)(0.193,0.222)(0.2,0.259)(0.208,0.252)(0.216,0.259)(0.223,0.252)(0.229,0.178)(0.237,0.097)(0.249,0.097)(0.255,0.1)(0.262,0.092)(0.27,0.075)(0.286,0.079)(0.3,0.07)(0.311,0.068)(0.343,0.064)(0.37,0.06)(0.392,0.057)(0.42,0.05)(0.457,0.046)(0.5,0.044)(0.538,0.042)(0.58,0.038)(0.62,0.035)(0.66,0.033)(0.701,0.031)(0.74,0.03)(0.782,0.029)(0.82,0.029)(0.863,0.029)(0.9,0.03)(0.945,0.031)(1,0.027)};
\addplot[c4] coordinates {(0.278,0.0015)(0.294,0.024)(0.311,0.075)(0.324,0.163)(0.333,0.244)(0.34,0.266)(0.346,0.252)(0.356,0.178)(0.367,0.119)(0.384,0.09)(0.4,0.06)(0.41,0.068)(0.421,0.075)(0.43,0.068)(0.441,0.053)(0.457,0.053)(0.475,0.046)(0.489,0.042)(0.51,0.04)(0.538,0.038)(0.58,0.034)(0.62,0.031)(0.66,0.029)(0.701,0.027)(0.74,0.023)(0.782,0.02)(0.82,0.02)(0.863,0.02)(0.9,0.018)(0.945,0.016)(1,0.0125)};
\addplot[c5] coordinates {(0.457,0.0015)(0.481,0.024)(0.498,0.053)(0.514,0.082)(0.53,0.086)(0.545,0.08)(0.554,0.075)(0.57,0.072)(0.587,0.068)(0.6,0.066)(0.62,0.06)(0.652,0.049)(0.68,0.046)(0.701,0.042)(0.75,0.035)(0.78,0.03)(0.815,0.027)(0.85,0.029)(0.88,0.031)(0.91,0.027)(0.945,0.024)(0.97,0.022)(1,0.02)};
\addplot[c6] coordinates {(0.701,0.0015)(0.74,0.005)(0.782,0.009)(0.815,0.014)(0.847,0.02)(0.865,0.027)(0.88,0.031)(0.9,0.035)(0.928,0.038)(0.945,0.04)(0.961,0.042)(0.98,0.04)(1,0.035)};
\end{axis}

\begin{axis}[panel,rowC,at={(283bp,57bp)},width=220bp,height=316bp,xticklabels={,0.4,,0.8}]
\addplot[c0] coordinates {(0.009,0.038)(0.024,0.149)(0.035,0.259)(0.044,0.369)(0.05,0.458)(0.056,0.377)(0.065,0.494)(0.071,0.531)(0.077,0.575)(0.083,0.553)(0.089,0.627)(0.095,0.568)(0.102,0.487)(0.111,0.399)(0.12,0.384)(0.13,0.355)(0.141,0.391)(0.15,0.325)(0.161,0.355)(0.171,0.296)(0.18,0.498)(0.186,0.325)(0.195,0.237)(0.206,0.281)(0.221,0.237)(0.236,0.208)(0.252,0.222)(0.263,0.19)(0.274,0.178)(0.29,0.17)(0.305,0.163)(0.32,0.155)(0.335,0.149)(0.35,0.16)(0.365,0.156)(0.38,0.14)(0.395,0.134)(0.41,0.145)(0.426,0.127)(0.44,0.135)(0.456,0.141)(0.47,0.13)(0.486,0.127)(0.5,0.136)(0.517,0.134)(0.53,0.14)(0.547,0.145)(0.56,0.125)(0.577,0.119)(0.59,0.13)(0.608,0.127)(0.623,0.122)(0.638,0.119)(0.653,0.132)(0.668,0.141)(0.683,0.128)(0.698,0.127)(0.714,0.135)(0.729,0.141)(0.744,0.13)(0.759,0.127)(0.774,0.13)(0.789,0.134)(0.805,0.14)(0.82,0.149)(0.835,0.155)(0.85,0.163)(0.865,0.14)(0.88,0.134)(0.895,0.138)(0.911,0.141)(0.926,0.15)(0.941,0.174)(0.95,0.15)(0.956,0.141)(0.97,0.135)(0.986,0.149)(1,0.13)};
\addplot[c1] coordinates {(0.017,0.003)(0.032,0.038)(0.047,0.134)(0.062,0.259)(0.077,0.384)(0.092,0.421)(0.108,0.428)(0.115,0.439)(0.123,0.414)(0.13,0.355)(0.138,0.193)(0.145,0.296)(0.161,0.325)(0.183,0.266)(0.206,0.252)(0.229,0.222)(0.244,0.178)(0.267,0.156)(0.289,0.141)(0.32,0.127)(0.35,0.119)(0.38,0.104)(0.411,0.097)(0.441,0.101)(0.471,0.093)(0.517,0.09)(0.562,0.091)(0.608,0.086)(0.653,0.09)(0.698,0.09)(0.744,0.091)(0.789,0.09)(0.835,0.093)(0.88,0.096)(0.926,0.093)(0.986,0.097)(1,0.096)};
\addplot[c2] coordinates {(0.024,0.003)(0.062,0.016)(0.085,0.038)(0.1,0.09)(0.115,0.171)(0.13,0.237)(0.145,0.333)(0.161,0.391)(0.171,0.384)(0.183,0.325)(0.195,0.222)(0.202,0.163)(0.211,0.296)(0.217,0.325)(0.226,0.222)(0.236,0.178)(0.252,0.193)(0.274,0.193)(0.305,0.171)(0.335,0.156)(0.365,0.141)(0.395,0.119)(0.441,0.112)(0.486,0.104)(0.547,0.097)(0.592,0.093)(0.638,0.09)(0.683,0.086)(0.729,0.082)(0.789,0.079)(0.85,0.075)(0.911,0.071)(0.986,0.071)(1,0.07)};
\addplot[c3] coordinates {(0.077,0.003)(0.108,0.016)(0.138,0.024)(0.168,0.038)(0.191,0.09)(0.206,0.185)(0.221,0.259)(0.236,0.31)(0.252,0.355)(0.259,0.366)(0.267,0.333)(0.277,0.237)(0.289,0.193)(0.312,0.193)(0.335,0.163)(0.365,0.171)(0.395,0.156)(0.426,0.149)(0.456,0.149)(0.502,0.134)(0.547,0.127)(0.592,0.119)(0.638,0.112)(0.683,0.104)(0.729,0.097)(0.774,0.09)(0.835,0.082)(0.88,0.071)(0.926,0.068)(0.986,0.06)(1,0.06)};
\addplot[c4] coordinates {(0.153,0.003)(0.214,0.009)(0.259,0.024)(0.289,0.046)(0.32,0.09)(0.335,0.119)(0.35,0.156)(0.365,0.178)(0.38,0.185)(0.395,0.208)(0.403,0.215)(0.418,0.193)(0.441,0.141)(0.471,0.127)(0.517,0.134)(0.562,0.119)(0.608,0.119)(0.653,0.112)(0.698,0.104)(0.744,0.097)(0.789,0.082)(0.835,0.075)(0.88,0.068)(0.926,0.06)(0.986,0.053)(1,0.052)};
\addplot[c5] coordinates {(0.305,0.003)(0.35,0.0125)(0.395,0.031)(0.441,0.046)(0.486,0.06)(0.517,0.082)(0.547,0.104)(0.577,0.119)(0.608,0.127)(0.638,0.119)(0.668,0.112)(0.698,0.104)(0.744,0.093)(0.789,0.082)(0.835,0.075)(0.88,0.071)(0.926,0.068)(0.986,0.06)(1,0.06)};
\addplot[c6] coordinates {(0.517,0.003)(0.592,0.009)(0.653,0.024)(0.698,0.038)(0.744,0.053)(0.789,0.064)(0.82,0.075)(0.85,0.09)(0.88,0.09)(0.911,0.097)(0.941,0.112)(0.971,0.112)(1,0.095)};
\end{axis}

\begin{axis}[panel,rowC,at={(509bp,57bp)},width=220bp,height=316bp,xticklabels={,0.4,,0.8}]
\addplot[c0] coordinates {(0.005,0.509)(0.008,0.296)(0.014,0.38)(0.02,0.406)(0.027,0.36)(0.035,0.443)(0.042,0.4)(0.05,0.391)(0.058,0.43)(0.065,0.48)(0.072,0.42)(0.08,0.443)(0.088,0.47)(0.095,0.509)(0.103,0.443)(0.111,0.502)(0.118,0.45)(0.126,0.436)(0.133,0.42)(0.141,0.406)(0.148,0.45)(0.156,0.509)(0.164,0.43)(0.171,0.406)(0.178,0.39)(0.186,0.384)(0.194,0.375)(0.202,0.369)(0.21,0.355)(0.217,0.347)(0.225,0.34)(0.232,0.333)(0.24,0.32)(0.247,0.325)(0.255,0.315)(0.262,0.31)(0.277,0.3)(0.292,0.296)(0.308,0.31)(0.323,0.296)(0.338,0.29)(0.353,0.281)(0.368,0.285)(0.383,0.266)(0.398,0.27)(0.414,0.259)(0.429,0.265)(0.444,0.252)(0.459,0.26)(0.474,0.281)(0.49,0.3)(0.505,0.325)(0.512,0.29)(0.52,0.266)(0.535,0.27)(0.55,0.252)(0.565,0.26)(0.58,0.266)(0.595,0.255)(0.611,0.259)(0.626,0.27)(0.641,0.281)(0.656,0.27)(0.671,0.266)(0.683,0.28)(0.694,0.31)(0.702,0.27)(0.709,0.252)(0.72,0.26)(0.732,0.259)(0.747,0.25)(0.762,0.244)(0.777,0.255)(0.792,0.266)(0.808,0.258)(0.823,0.266)(0.83,0.275)(0.838,0.288)(0.853,0.265)(0.868,0.252)(0.883,0.24)(0.898,0.23)(0.914,0.235)(0.929,0.237)(0.944,0.245)(0.959,0.259)(0.967,0.24)(0.974,0.23)(0.987,0.238)(1,0.23)};
\addplot[c1] coordinates {(0.005,0.443)(0.012,0.296)(0.02,0.333)(0.035,0.325)(0.05,0.355)(0.065,0.34)(0.08,0.369)(0.095,0.414)(0.111,0.428)(0.126,0.443)(0.141,0.421)(0.156,0.399)(0.171,0.384)(0.186,0.355)(0.202,0.34)(0.217,0.325)(0.232,0.31)(0.247,0.288)(0.262,0.274)(0.277,0.26)(0.292,0.252)(0.308,0.24)(0.323,0.23)(0.338,0.222)(0.353,0.215)(0.368,0.21)(0.383,0.208)(0.398,0.204)(0.414,0.2)(0.429,0.196)(0.444,0.193)(0.459,0.197)(0.474,0.2)(0.49,0.196)(0.505,0.193)(0.52,0.19)(0.535,0.189)(0.55,0.192)(0.565,0.193)(0.58,0.19)(0.595,0.193)(0.611,0.197)(0.626,0.2)(0.641,0.197)(0.656,0.2)(0.671,0.196)(0.686,0.193)(0.702,0.19)(0.717,0.193)(0.732,0.188)(0.747,0.185)(0.762,0.188)(0.777,0.189)(0.792,0.186)(0.808,0.185)(0.823,0.19)(0.838,0.193)(0.853,0.19)(0.868,0.193)(0.883,0.196)(0.898,0.2)(0.914,0.196)(0.929,0.193)(0.944,0.197)(0.959,0.196)(0.98,0.195)(1,0.193)};
\addplot[c2] coordinates {(0.012,0.003)(0.02,0.222)(0.027,0.318)(0.035,0.31)(0.05,0.31)(0.065,0.303)(0.08,0.31)(0.095,0.325)(0.111,0.296)(0.126,0.325)(0.141,0.333)(0.156,0.355)(0.171,0.369)(0.186,0.391)(0.202,0.347)(0.217,0.325)(0.232,0.318)(0.247,0.31)(0.262,0.303)(0.292,0.296)(0.308,0.28)(0.323,0.266)(0.338,0.245)(0.353,0.23)(0.368,0.222)(0.383,0.215)(0.398,0.205)(0.414,0.2)(0.429,0.197)(0.444,0.193)(0.459,0.19)(0.474,0.185)(0.49,0.18)(0.505,0.178)(0.52,0.174)(0.535,0.171)(0.55,0.176)(0.565,0.178)(0.58,0.174)(0.595,0.171)(0.611,0.162)(0.626,0.156)(0.641,0.16)(0.656,0.156)(0.671,0.152)(0.686,0.149)(0.702,0.153)(0.717,0.156)(0.732,0.152)(0.747,0.149)(0.762,0.145)(0.777,0.141)(0.792,0.146)(0.808,0.149)(0.823,0.144)(0.838,0.141)(0.853,0.137)(0.868,0.134)(0.883,0.138)(0.898,0.141)(0.914,0.139)(0.929,0.141)(0.944,0.138)(0.959,0.138)(0.98,0.14)(1,0.138)};
\addplot[c3] coordinates {(0.08,0.003)(0.092,0.222)(0.098,0.34)(0.103,0.31)(0.111,0.296)(0.118,0.325)(0.126,0.281)(0.133,0.285)(0.141,0.274)(0.148,0.285)(0.156,0.281)(0.164,0.27)(0.171,0.274)(0.178,0.285)(0.186,0.281)(0.194,0.272)(0.202,0.274)(0.21,0.285)(0.217,0.281)(0.225,0.27)(0.232,0.274)(0.24,0.268)(0.247,0.266)(0.262,0.266)(0.277,0.262)(0.292,0.259)(0.308,0.27)(0.323,0.281)(0.338,0.275)(0.353,0.281)(0.368,0.265)(0.383,0.252)(0.398,0.255)(0.414,0.259)(0.429,0.244)(0.444,0.237)(0.459,0.235)(0.474,0.23)(0.49,0.222)(0.505,0.215)(0.52,0.212)(0.535,0.208)(0.55,0.2)(0.565,0.193)(0.58,0.185)(0.595,0.178)(0.611,0.17)(0.626,0.163)(0.641,0.16)(0.656,0.156)(0.671,0.152)(0.686,0.149)(0.702,0.149)(0.717,0.149)(0.732,0.145)(0.747,0.141)(0.762,0.138)(0.777,0.134)(0.792,0.13)(0.808,0.127)(0.823,0.123)(0.838,0.119)(0.853,0.115)(0.868,0.112)(0.883,0.11)(0.898,0.108)(0.914,0.106)(0.929,0.104)(0.944,0.1)(0.959,0.097)(0.98,0.095)(1,0.093)};
\addplot[c4] coordinates {(0.171,0.003)(0.186,0.075)(0.202,0.185)(0.217,0.259)(0.232,0.31)(0.247,0.296)(0.262,0.259)(0.277,0.215)(0.292,0.252)(0.308,0.288)(0.323,0.266)(0.338,0.237)(0.353,0.222)(0.368,0.226)(0.383,0.23)(0.398,0.225)(0.414,0.222)(0.429,0.2)(0.444,0.204)(0.459,0.208)(0.474,0.215)(0.489,0.222)(0.505,0.208)(0.52,0.193)(0.535,0.196)(0.55,0.2)(0.565,0.204)(0.58,0.208)(0.595,0.215)(0.611,0.193)(0.626,0.18)(0.641,0.171)(0.656,0.167)(0.671,0.163)(0.694,0.16)(0.717,0.156)(0.732,0.152)(0.747,0.149)(0.762,0.142)(0.777,0.134)(0.792,0.126)(0.808,0.119)(0.823,0.115)(0.838,0.112)(0.853,0.108)(0.868,0.104)(0.883,0.1)(0.898,0.097)(0.914,0.093)(0.929,0.09)(0.944,0.088)(0.959,0.086)(0.98,0.082)(1,0.079)};
\addplot[c5] coordinates {(0.308,0.003)(0.338,0.031)(0.353,0.09)(0.368,0.163)(0.38,0.18)(0.391,0.189)(0.403,0.19)(0.414,0.193)(0.429,0.208)(0.444,0.215)(0.459,0.185)(0.474,0.178)(0.489,0.2)(0.505,0.193)(0.52,0.185)(0.535,0.178)(0.55,0.17)(0.565,0.163)(0.58,0.149)(0.595,0.141)(0.611,0.148)(0.626,0.156)(0.641,0.152)(0.656,0.149)(0.671,0.152)(0.686,0.156)(0.702,0.152)(0.717,0.149)(0.732,0.145)(0.747,0.141)(0.762,0.138)(0.777,0.134)(0.792,0.13)(0.808,0.127)(0.823,0.123)(0.838,0.119)(0.853,0.115)(0.868,0.112)(0.883,0.108)(0.898,0.104)(0.914,0.102)(0.929,0.101)(0.944,0.099)(0.959,0.097)(0.98,0.095)(1,0.093)};
\addplot[c6] coordinates {(0.535,0.003)(0.565,0.009)(0.595,0.024)(0.626,0.046)(0.656,0.075)(0.671,0.095)(0.686,0.119)(0.698,0.14)(0.709,0.163)(0.72,0.175)(0.732,0.185)(0.747,0.178)(0.758,0.19)(0.77,0.2)(0.778,0.19)(0.785,0.178)(0.792,0.162)(0.8,0.149)(0.812,0.145)(0.823,0.141)(0.838,0.145)(0.853,0.149)(0.868,0.145)(0.883,0.141)(0.898,0.138)(0.914,0.134)(0.929,0.14)(0.944,0.149)(0.959,0.152)(0.974,0.156)(0.987,0.16)(1,0.163)};
\addplot[c7] coordinates {(0.84,0)(0.9,0.003)(1,0.009)};
\end{axis}

%% ================= legend (RCT v=1 panel) =================
\foreach \lab/\col [count=\i from 0] in {J=0/jpurple,J=10/blue,J=20/black,J=30/jgreen,J=40/red,J=50/jorange,J=60/jbrown,J=70/jdkgreen,J=80/jcyan}{
  \node[anchor=base east,font=\fontsize{14}{14}\selectfont,inner sep=0pt] at (418bp,{(324.3-15*\i)*1bp}) {\lab};
  \draw[color=\col,line width=1.5bp] (428bp,{(329-15*\i)*1bp}) -- (472bp,{(329-15*\i)*1bp});
}

%% ================= texts =================
\node[anchor=base west,font=\titlefont,inner sep=0pt] at (83bp,991bp) {NRCT: H+\Dtwo(v=0) -> H\textsuperscript{+}+D\textsubscript{2}};
\node[anchor=base west,font=\titlefont,inner sep=0pt] at (293bp,991bp) {NRCT: H+\Dtwo(v=1) -> H\textsuperscript{+}+D\textsubscript{2}};
\node[anchor=base west,font=\titlefont,inner sep=0pt] at (519bp,991bp) {NRCT: H+\Dtwo(v=2) -> H\textsuperscript{+}+D\textsubscript{2}};
\node[anchor=base west,font=\titlefont,inner sep=0pt] at (83bp,664bp) {ER: H+\Dtwo(v=0) -> HD\textsuperscript{+}+D};
\node[anchor=base west,font=\titlefont,inner sep=0pt] at (293bp,664bp) {ER: H+\Dtwo(v=1) -> HD\textsuperscript{+}+D};
\node[anchor=base west,font=\titlefont,inner sep=0pt] at (519bp,664bp) {ER: H+\Dtwo(v=2) -> HD\textsuperscript{+}+D};
\node[anchor=base west,font=\titlefont,inner sep=0pt] at (83bp,345bp) {RCT: H+\Dtwo(v=0) -> HD+D\textsuperscript{+}};
\node[anchor=base west,font=\titlefont,inner sep=0pt] at (293bp,345bp) {RCT: H+\Dtwo(v=1) -> HD+D\textsuperscript{+}};
\node[anchor=base west,font=\titlefont,inner sep=0pt] at (519bp,345bp) {RCT: H+\Dtwo(v=2) -> HD+D\textsuperscript{+}};
\node[rotate=90,font=\fontsize{17}{17}\selectfont,inner sep=0pt] at (14bp,480bp) {Probability};
\node[anchor=base,font=\fontsize{17}{17}\selectfont,inner sep=0pt] at (366bp,7bp) {Collision energy (eV)};
\end{tikzpicture}
\end{document}
